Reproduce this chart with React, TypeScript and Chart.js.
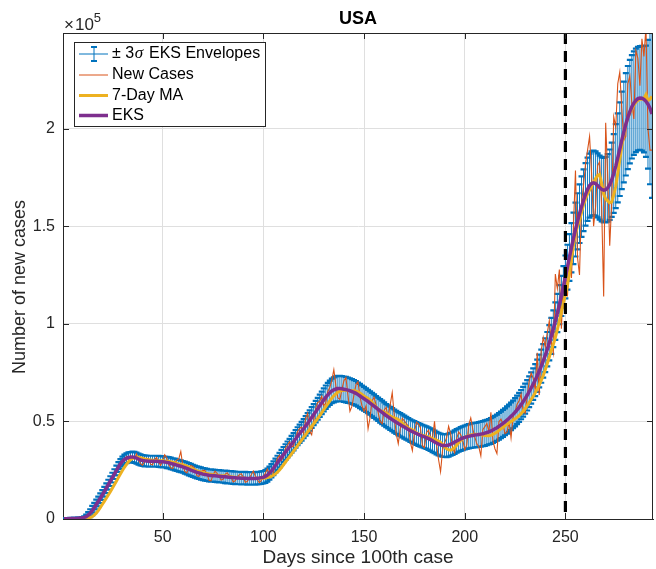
import React, { useEffect, useRef } from 'react';
import { Chart, registerables } from 'chart.js';

Chart.register(...registerables);

// ---------- data (values in thousands of cases) ----------
const newCases = [
  0.1, 0.1, 0.1, 0.2, 0.2, 0.3, 0.3, 0.4, 0.5, 0.7,
  0.9, 1.3, 2.1, 3.1, 4.6, 5.5, 7.9, 9.3, 10.2, 12.9,
  13.6, 16.4, 17.2, 19.9, 20.8, 23.6, 24.3, 27.2, 28.0, 30.1,
  29.6, 32.0, 30.6, 32.5, 31.0, 31.0, 33.4, 30.2, 28.4, 27.6,
  29.5, 31.2, 30.8, 28.1, 27.8, 30.6, 31.5, 29.0, 27.5, 29.8,
  32.9, 31.4, 28.0, 26.1, 25.9, 28.9, 30.2, 30.8, 34.6, 27.2,
  24.4, 23.6, 26.1, 27.4, 26.9, 25.9, 22.2, 21.8, 24.3, 25.0,
  24.9, 23.2, 19.8, 19.5, 22.6, 24.5, 23.4, 22.1, 19.9, 20.3,
  22.9, 23.7, 22.4, 21.8, 19.0, 19.6, 21.7, 22.6, 23.2, 21.5,
  18.8, 19.2, 21.0, 22.7, 24.6, 22.0, 20.2, 18.6, 19.8, 21.9,
  23.4, 25.6, 22.8, 21.3, 24.0, 27.9, 31.2, 32.6, 30.1, 31.8,
  36.4, 37.9, 39.6, 37.0, 37.4, 41.5, 44.8, 46.4, 47.1, 43.9,
  51.6, 54.2, 45.1, 43.2, 50.2, 56.8, 59.7, 60.2, 62.9, 58.0,
  59.4, 65.3, 67.4, 71.2, 76.5, 68.3, 62.1, 61.2, 66.4, 70.8,
  72.4, 63.5, 55.2, 57.8, 63.6, 68.9, 70.3, 62.5, 57.9, 55.1,
  58.0, 46.2, 52.0, 60.5, 62.4, 58.3, 54.6, 50.0, 48.8, 55.7,
  57.2, 52.1, 58.6, 64.8, 53.0, 43.5, 38.6, 46.5, 51.6, 50.2,
  48.9, 47.5, 39.2, 35.0, 44.1, 49.6, 48.7, 46.8, 37.4, 36.5,
  44.2, 45.5, 42.3, 40.8, 50.1, 38.2, 30.5, 24.2, 35.4, 39.0,
  41.6, 47.5, 43.8, 36.2, 33.9, 41.2, 44.6, 43.1, 40.7, 35.5,
  37.8, 48.2, 51.8, 46.0, 42.1, 38.5, 36.9, 32.4, 45.8, 47.3,
  49.0, 44.6, 54.7, 40.2, 36.0, 33.5, 49.9, 51.2, 48.5, 43.8,
  44.5, 49.8, 41.5, 52.2, 55.0, 58.8, 60.6, 64.0, 55.1, 54.2,
  62.5, 70.6, 74.8, 72.1, 66.0, 85.2, 63.5, 86.4, 93.0, 88.2,
  95.4, 101.6, 90.5, 85.0, 125.5, 118.0, 127.8, 97.5, 121.6, 126.0,
  114.0, 131.0, 123.5, 150.0, 178.5, 134.0, 125.0, 162.0, 171.0, 182.0,
  189.0, 196.0, 177.0, 150.0, 160.0, 181.0, 183.0, 160.0, 114.0, 203.0,
  176.0, 140.0, 162.0, 206.0, 201.0, 223.0, 229.0, 210.0, 194.0, 196.0,
  223.0, 227.0, 213.0, 205.0, 240.0, 236.0, 222.0, 246.0, 237.0, 252.0,
  200.0, 189.0, 189.0,
];

const movingAvg7 = [
  0.1, 0.1, 0.1, 0.1, 0.1, 0.1, 0.2, 0.2, 0.2, 0.3,
  0.3, 0.4, 0.6, 0.8, 1.2, 2.0, 3.0, 4.3, 5.8, 7.4,
  9.0, 10.6, 12.3, 14.0, 15.8, 17.6, 19.4, 21.2, 23.0, 24.8,
  26.5, 28.0, 29.3, 30.3, 31.0, 31.4, 31.6, 31.6, 31.4, 31.1,
  30.8, 30.5, 30.3, 30.2, 30.1, 30.0, 29.9, 29.9, 29.8, 29.8,
  29.7, 29.6, 29.5, 29.3, 29.1, 28.8, 28.5, 28.2, 28.0, 27.8,
  27.5, 27.1, 26.6, 26.1, 25.6, 25.1, 24.7, 24.4, 24.1, 23.8,
  23.5, 23.3, 23.1, 22.9, 22.7, 22.5, 22.4, 22.3, 22.2, 22.1,
  22.0, 21.9, 21.7, 21.6, 21.5, 21.4, 21.3, 21.2, 21.1, 21.0,
  20.9, 20.8, 20.8, 20.8, 20.8, 20.9, 20.9, 20.9, 20.9, 20.9,
  21.0, 21.2, 21.5, 21.9, 22.4, 23.1, 24.0, 25.1, 26.4, 27.8,
  29.2, 30.6, 32.0, 33.4, 34.8, 36.2, 37.6, 39.0, 40.4, 41.8,
  43.2, 44.6, 46.0, 47.4, 48.8, 50.2, 51.6, 53.0, 54.5, 56.0,
  57.5, 59.0, 60.5, 61.9, 63.1, 64.1, 64.9, 65.5, 65.8, 66.0,
  66.0, 65.9, 65.8, 65.8, 65.7, 65.5, 65.1, 64.5, 63.8, 63.0,
  62.3, 61.7, 60.9, 59.8, 58.6, 57.4, 56.4, 55.7, 55.2, 54.8,
  54.3, 53.6, 52.8, 52.2, 51.8, 51.5, 51.0, 50.2, 49.2, 48.1,
  47.2, 46.6, 46.2, 45.7, 45.0, 44.2, 43.6, 43.2, 42.9, 42.6,
  42.3, 42.0, 41.6, 41.2, 40.8, 40.4, 39.9, 39.2, 38.2, 37.0,
  36.0, 35.4, 35.3, 35.7, 36.6, 37.8, 39.1, 40.3, 41.2, 41.9,
  42.4, 42.8, 43.1, 43.3, 43.4, 43.4, 43.3, 43.2, 43.0, 42.8,
  42.7, 42.7, 42.9, 43.3, 43.9, 44.6, 45.4, 46.2, 47.0, 47.8,
  48.5, 49.2, 49.9, 50.6, 51.3, 52.1, 53.0, 54.0, 55.2, 56.6,
  58.1, 59.6, 61.2, 62.9, 64.7, 66.6, 68.7, 71.0, 73.6, 76.5,
  79.7, 83.0, 86.5, 89.5, 93.0, 97.0, 101.5, 106.0, 110.5, 115.0,
  119.5, 126.0, 133.0, 140.0, 146.0, 150.0, 153.0, 157.0, 161.0, 164.0,
  166.5, 168.5, 170.5, 172.5, 174.5, 176.0, 176.5, 172.0, 166.5, 164.0,
  163.0, 162.0, 162.5, 166.0, 170.5, 177.0, 184.0, 191.0, 197.0, 202.0,
  205.5, 208.0, 210.0, 212.0, 213.5, 214.5, 215.0, 215.0, 215.5, 217.5,
  214.5, 215.0, 216.5,
];

const eks = [
  0.1, 0.1, 0.1, 0.2, 0.2, 0.3, 0.3, 0.4, 0.5, 0.6,
  0.8, 1.2, 2.0, 3.0, 4.3, 5.8, 7.4, 9.0, 10.6, 12.3,
  14.0, 15.8, 17.6, 19.4, 21.2, 23.0, 24.8, 26.6, 28.2, 29.5,
  30.5, 31.1, 31.5, 31.7, 31.8, 31.6, 31.2, 30.7, 30.3, 30.0,
  29.8, 29.7, 29.6, 29.6, 29.6, 29.6, 29.6, 29.5, 29.4, 29.3,
  29.2, 29.0, 28.8, 28.5, 28.2, 27.9, 27.6, 27.3, 27.0, 26.7,
  26.3, 25.9, 25.5, 25.1, 24.7, 24.3, 23.9, 23.6, 23.3, 23.0,
  22.8, 22.6, 22.4, 22.3, 22.2, 22.1, 22.0, 21.9, 21.8, 21.7,
  21.6, 21.5, 21.4, 21.3, 21.2, 21.1, 21.0, 21.0, 20.9, 20.9,
  20.9, 20.8, 20.8, 20.8, 20.8, 20.8, 20.9, 21.0, 21.2, 21.4,
  21.8, 22.5, 23.5, 24.7, 26.0, 27.4, 28.8, 30.2, 31.6, 33.0,
  34.3, 35.6, 36.9, 38.3, 39.6, 41.0, 42.4, 43.7, 45.0, 46.3,
  47.7, 49.1, 50.5, 52.0, 53.5, 55.0, 56.5, 58.0, 59.5, 61.0,
  62.4, 63.6, 64.7, 65.6, 66.2, 66.6, 66.8, 66.8, 66.7, 66.5,
  66.3, 66.0, 65.7, 65.3, 64.9, 64.4, 63.7, 63.0, 62.3, 61.6,
  60.9, 60.2, 59.4, 58.6, 57.8, 57.0, 56.2, 55.4, 54.6, 53.8,
  53.0, 52.3, 51.6, 50.9, 50.2, 49.5, 48.9, 48.3, 47.7, 47.1,
  46.5, 45.9, 45.3, 44.8, 44.3, 43.8, 43.3, 42.9, 42.5, 42.1,
  41.7, 41.2, 40.7, 40.1, 39.5, 38.9, 38.4, 38.0, 37.7, 37.6,
  37.6, 37.9, 38.3, 38.8, 39.4, 40.0, 40.5, 41.0, 41.4, 41.8,
  42.1, 42.4, 42.6, 42.8, 43.0, 43.1, 43.3, 43.5, 43.7, 44.0,
  44.3, 44.7, 45.1, 45.6, 46.2, 46.8, 47.5, 48.2, 49.0, 49.8,
  50.7, 51.6, 52.6, 53.6, 54.7, 55.9, 57.2, 58.6, 60.1, 61.7,
  63.4, 65.2, 67.1, 69.1, 71.2, 73.4, 75.8, 78.3, 81.0, 83.9,
  87.0, 90.3, 93.8, 97.5, 101.4, 105.5, 109.8, 114.3, 119.0, 124.0,
  129.0, 134.0, 139.0, 143.8, 148.3, 152.5, 156.4, 160.0, 163.3, 166.3,
  168.9, 170.8, 171.9, 172.2, 171.8, 170.9, 169.8, 168.9, 168.5, 168.7,
  169.6, 171.3, 173.8, 177.0, 180.8, 185.0, 189.5, 194.0, 198.3, 202.2,
  205.7, 208.7, 211.2, 213.1, 214.5, 215.4, 215.7, 215.6, 215.0, 214.0,
  212.5, 210.5, 207.5,
];

// half-width of the +/- 3 sigma envelope
const sigma3 = [
  0.4, 0.4, 0.4, 0.4, 0.4, 0.4, 0.4, 0.4, 0.4, 0.4,
  0.6, 1.0, 1.5, 2.0, 2.4, 2.5, 2.5, 2.5, 2.5, 2.5,
  2.5, 2.5, 2.5, 2.5, 2.5, 2.5, 2.5, 2.5, 2.5, 2.5,
  2.5, 2.5, 2.6, 2.6, 2.7, 2.8, 2.8, 2.8, 2.8, 2.8,
  2.8, 2.8, 2.8, 2.8, 2.8, 2.8, 2.8, 2.8, 2.8, 2.8,
  2.8, 2.9, 2.9, 2.9, 2.9, 3.0, 3.0, 3.0, 3.0, 3.0,
  3.1, 3.1, 3.1, 3.1, 3.1, 3.1, 3.1, 3.1, 3.1, 3.1,
  3.1, 3.1, 3.1, 3.1, 3.1, 3.1, 3.1, 3.1, 3.1, 3.1,
  3.2, 3.2, 3.2, 3.2, 3.2, 3.2, 3.2, 3.2, 3.2, 3.2,
  3.2, 3.2, 3.2, 3.2, 3.2, 3.2, 3.2, 3.2, 3.2, 3.2,
  3.3, 3.3, 3.4, 3.4, 3.5, 3.5, 3.6, 3.7, 3.8, 3.9,
  4.0, 4.1, 4.2, 4.3, 4.4, 4.5, 4.6, 4.7, 4.8, 4.9,
  5.0, 5.1, 5.2, 5.3, 5.4, 5.5, 5.6, 5.7, 5.8, 5.9,
  6.0, 6.1, 6.2, 6.3, 6.4, 6.5, 6.5, 6.5, 6.5, 6.5,
  6.5, 6.5, 6.4, 6.4, 6.3, 6.3, 6.2, 6.2, 6.1, 6.1,
  6.0, 6.0, 6.0, 6.0, 6.0, 6.0, 6.0, 6.0, 6.0, 6.0,
  5.9, 5.9, 5.9, 5.9, 5.9, 5.9, 5.9, 5.9, 5.9, 5.9,
  5.8, 5.8, 5.8, 5.8, 5.8, 5.8, 5.8, 5.8, 5.8, 5.8,
  5.8, 5.8, 5.8, 5.8, 5.8, 5.8, 5.8, 5.8, 5.8, 5.8,
  5.9, 5.9, 5.9, 6.0, 6.0, 6.0, 6.0, 6.1, 6.1, 6.1,
  6.2, 6.2, 6.2, 6.3, 6.3, 6.3, 6.4, 6.4, 6.4, 6.5,
  6.5, 6.5, 6.6, 6.6, 6.7, 6.7, 6.8, 6.8, 6.9, 6.9,
  7.0, 7.0, 7.1, 7.1, 7.2, 7.3, 7.4, 7.5, 7.6, 7.7,
  7.8, 7.9, 8.0, 8.1, 8.2, 8.3, 8.4, 8.5, 8.6, 8.7,
  8.8, 9.0, 9.2, 9.4, 9.6, 9.8, 10.0, 10.3, 10.6, 11.0,
  11.5, 12.0, 12.6, 13.2, 13.8, 14.4, 15.0, 15.5, 15.8, 16.0,
  16.2, 16.4, 16.5, 16.5, 16.5, 16.4, 16.4, 16.4, 16.5, 16.8,
  17.3, 18.0, 19.0, 20.2, 21.5, 22.8, 24.0, 25.0, 25.8, 26.2,
  26.4, 26.5, 26.5, 26.5, 26.5, 26.5, 26.6, 26.8, 27.2, 28.5,
  33.0, 39.0, 43.0,
];

const xTickValues = [50, 100, 150, 200, 250];
const yTickValues = [0, 50000, 100000, 150000, 200000];
const markerDay = 250;
const chartTitle = 'USA';
const xLabel = 'Days since 100th case';
const yLabel = 'Number of new cases';
const legendLabels = ['EKS Envelopes', 'New Cases', '7-Day MA', 'EKS'];

const SCALE = 1000;
const days = eks.map((_, i) => i + 1);

const FONT = "'Liberation Sans', Arial, Helvetica, sans-serif";
const AX = '#262626';
const C_BLUE = '#0072BD';
const C_ORANGE = '#D95319';
const C_YELLOW = '#EDB120';
const C_PURPLE = '#7E2F8E';

const toPoints = (arr: number[]) => arr.map((v, i) => ({ x: days[i], y: v * SCALE }));

const errorBarPlugin = {
  id: 'errorBars',
  beforeDatasetsDraw(chart: any) {
    const { ctx, chartArea: a, scales } = chart;
    const xs = scales.x, ys = scales.y;
    ctx.save();
    ctx.beginPath();
    ctx.rect(a.left, a.top, a.right - a.left, a.bottom - a.top);
    ctx.clip();
    // vertical bars
    ctx.strokeStyle = 'rgba(0,114,189,0.95)';
    ctx.lineWidth = 1;
    ctx.beginPath();
    for (let i = 0; i < days.length; i++) {
      const x = xs.getPixelForValue(days[i]);
      const hi = ys.getPixelForValue((eks[i] + sigma3[i]) * SCALE);
      const lo = ys.getPixelForValue((eks[i] - sigma3[i]) * SCALE);
      ctx.moveTo(x, hi);
      ctx.lineTo(x, lo);
    }
    ctx.stroke();
    // caps
    ctx.strokeStyle = C_BLUE;
    ctx.lineWidth = 2.2;
    ctx.beginPath();
    for (let i = 0; i < days.length; i++) {
      const x = xs.getPixelForValue(days[i]);
      const hi = ys.getPixelForValue((eks[i] + sigma3[i]) * SCALE);
      const lo = ys.getPixelForValue((eks[i] - sigma3[i]) * SCALE);
      ctx.moveTo(x - 3, hi);
      ctx.lineTo(x + 3, hi);
      ctx.moveTo(x - 3, lo);
      ctx.lineTo(x + 3, lo);
    }
    ctx.stroke();
    ctx.restore();
  },
};

const overlayPlugin = {
  id: 'overlay',
  afterDatasetsDraw(chart: any) {
    const { ctx, chartArea: a, scales } = chart;
    const xs = scales.x, ys = scales.y;
    // dashed vertical marker
    ctx.save();
    const mx = xs.getPixelForValue(markerDay);
    ctx.strokeStyle = '#000';
    ctx.lineWidth = 3.2;
    ctx.setLineDash([11, 7]);
    ctx.beginPath();
    ctx.moveTo(mx, a.top);
    ctx.lineTo(mx, a.bottom);
    ctx.stroke();
    ctx.setLineDash([]);
    // box and inward ticks
    ctx.strokeStyle = AX;
    ctx.lineWidth = 1;
    ctx.beginPath();
    ctx.moveTo(a.left, a.top + 0.5);
    ctx.lineTo(a.right, a.top + 0.5);
    ctx.moveTo(a.right - 0.5, a.top);
    ctx.lineTo(a.right - 0.5, a.bottom);
    for (const v of xTickValues) {
      const x = Math.round(xs.getPixelForValue(v)) + 0.5;
      ctx.moveTo(x, a.bottom);
      ctx.lineTo(x, a.bottom - 6);
      ctx.moveTo(x, a.top);
      ctx.lineTo(x, a.top + 6);
    }
    for (const v of yTickValues) {
      const y = Math.round(ys.getPixelForValue(v)) + 0.5;
      ctx.moveTo(a.left, y);
      ctx.lineTo(a.left + 6, y);
      ctx.moveTo(a.right, y);
      ctx.lineTo(a.right - 6, y);
    }
    ctx.stroke();
    ctx.restore();
  },
  afterDraw(chart: any) {
    const { ctx, chartArea: a } = chart;
    ctx.save();
    ctx.fillStyle = '#000';
    // title
    ctx.font = `bold 18px ${FONT}`;
    ctx.textAlign = 'center';
    ctx.textBaseline = 'alphabetic';
    ctx.fillText(chartTitle, (a.left + a.right) / 2, 24);
    // exponent
    ctx.fillStyle = AX;
    ctx.textAlign = 'left';
    ctx.font = `17px ${FONT}`;
    ctx.fillText('\u00d7', 64, 30);
    const wx = ctx.measureText('\u00d7').width;
    ctx.fillText('10', 64 + wx + 1, 30);
    const w10 = ctx.measureText('10').width;
    ctx.font = `13px ${FONT}`;
    ctx.fillText('5', 64 + wx + 1 + w10, 22);
    // axis labels
    ctx.font = `19px ${FONT}`;
    ctx.textAlign = 'center';
    ctx.textBaseline = 'middle';
    ctx.fillText(xLabel, (a.left + a.right) / 2, 558);
    ctx.font = `18px ${FONT}`;
    ctx.save();
    ctx.translate(20, 287);
    ctx.rotate(-Math.PI / 2);
    ctx.fillText(yLabel, 0, 0);
    ctx.restore();
    // legend
    const bx = 74.5, by = 42.5, bw = 191, bh = 84;
    ctx.fillStyle = '#fff';
    ctx.fillRect(bx, by, bw, bh);
    ctx.strokeStyle = AX;
    ctx.lineWidth = 1;
    ctx.strokeRect(bx, by, bw, bh);
    const rows = [54, 75, 95.5, 115.5];
    const x0 = 79, x1 = 108, tx = 112;
    // errorbar icon
    ctx.strokeStyle = C_BLUE;
    ctx.lineWidth = 1;
    ctx.beginPath();
    ctx.moveTo(x0, rows[0]);
    ctx.lineTo(x1, rows[0]);
    ctx.moveTo(94, rows[0] - 7);
    ctx.lineTo(94, rows[0] + 7);
    ctx.stroke();
    ctx.lineWidth = 1.8;
    ctx.beginPath();
    ctx.moveTo(91, rows[0] - 7);
    ctx.lineTo(97, rows[0] - 7);
    ctx.moveTo(91, rows[0] + 7);
    ctx.lineTo(97, rows[0] + 7);
    ctx.stroke();
    const lineRow = (y: number, color: string, lw: number) => {
      ctx.strokeStyle = color;
      ctx.lineWidth = lw;
      ctx.beginPath();
      ctx.moveTo(x0, y);
      ctx.lineTo(x1, y);
      ctx.stroke();
    };
    lineRow(rows[1], C_ORANGE, 1);
    lineRow(rows[2], C_YELLOW, 3);
    lineRow(rows[3], C_PURPLE, 3.5);
    ctx.fillStyle = '#000';
    ctx.textAlign = 'left';
    ctx.textBaseline = 'middle';
    ctx.font = `16px ${FONT}`;
    let cx = tx;
    ctx.fillText('\u00b1 3', cx, rows[0]);
    cx += ctx.measureText('\u00b1 3').width + 0.5;
    ctx.font = `italic 17px 'Liberation Serif', 'DejaVu Serif', serif`;
    ctx.fillText('\u03c3', cx, rows[0]);
    cx += ctx.measureText('\u03c3').width + 1.5;
    ctx.font = `16px ${FONT}`;
    ctx.fillText(' ' + legendLabels[0], cx, rows[0]);
    for (let i = 1; i < 4; i++) ctx.fillText(legendLabels[i], tx, rows[i]);
    ctx.restore();
  },
};

export default function App() {
  const ref = useRef<HTMLCanvasElement>(null);
  useEffect(() => {
    if (!ref.current) return;
    const chart = new Chart(ref.current, {
      type: 'line',
      data: {
        datasets: [
          { label: 'New Cases', data: toPoints(newCases), borderColor: C_ORANGE, borderWidth: 1.1, pointRadius: 0, order: 3, tension: 0 },
          { label: '7-Day MA', data: toPoints(movingAvg7), borderColor: C_YELLOW, borderWidth: 3, pointRadius: 0, order: 2, tension: 0 },
          { label: 'EKS', data: toPoints(eks), borderColor: C_PURPLE, borderWidth: 3.5, pointRadius: 0, order: 1, tension: 0 },
        ],
      },
      options: {
        animation: false,
        responsive: false,
        devicePixelRatio: 1,
        parsing: false as any,
        layout: { padding: { top: 33, right: 3, left: 0, bottom: 0 } },
        plugins: { legend: { display: false }, title: { display: false }, tooltip: { enabled: false } },
        scales: {
          x: {
            type: 'linear',
            min: 0.5,
            max: 293.5,
            afterBuildTicks: (axis: any) => { axis.ticks = xTickValues.map((v) => ({ value: v })); },
            afterFit: (s: any) => { s.height = 50; },
            grid: { color: '#dfdfdf', drawTicks: false, lineWidth: 1 },
            border: { color: AX, width: 1 },
            ticks: { font: { family: FONT, size: 16 }, color: AX, padding: 9, maxRotation: 0, autoSkip: false, callback: (v: any) => String(v) },
          },
          y: {
            type: 'linear',
            min: 0,
            max: 249000,
            afterBuildTicks: (axis: any) => { axis.ticks = yTickValues.map((v) => ({ value: v })); },
            afterFit: (s: any) => { s.width = 63; },
            grid: { color: '#dfdfdf', drawTicks: false, lineWidth: 1 },
            border: { color: AX, width: 1 },
            ticks: { font: { family: FONT, size: 16 }, color: AX, padding: 8, autoSkip: false, callback: (v: any) => String(Number(v) / 100000) },
          },
        },
      },
      plugins: [errorBarPlugin, overlayPlugin],
    } as any);
    return () => chart.destroy();
  }, []);
  return (
    <div style={{ position: 'absolute', left: 0, top: 0, width: 656, height: 569, background: '#fff' }}>
      <canvas ref={ref} width={656} height={569} style={{ display: 'block', width: 656, height: 569 }} />
    </div>
  );
}
